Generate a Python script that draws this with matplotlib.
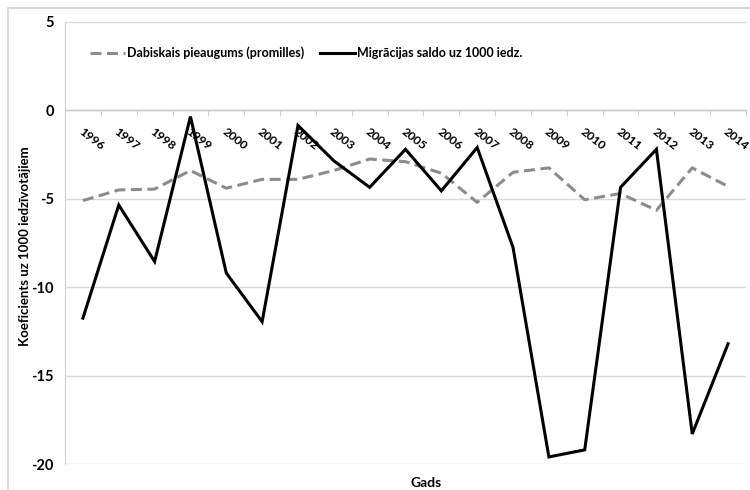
import matplotlib
matplotlib.use("Agg")
import matplotlib.pyplot as plt
import matplotlib.transforms as mtransforms
from matplotlib.lines import Line2D
from matplotlib.patches import Rectangle
import numpy as np

years = ["1996", "1997", "1998", "1999", "2000", "2001", "2002", "2003", "2004", "2005",
         "2006", "2007", "2008", "2009", "2010", "2011", "2012", "2013", "2014"]
natural_growth = [-5.1, -4.5, -4.45, -3.4, -4.4, -3.9, -3.9, -3.4, -2.75, -2.9,
                  -3.55, -5.2, -3.5, -3.25, -5.05, -4.7, -5.65, -3.25, -4.3]
migration = [-11.75, -5.35, -8.55, -0.35, -9.2, -11.95, -0.85, -2.85, -4.35, -2.2,
             -4.55, -2.1, -7.75, -19.6, -19.2, -4.35, -2.2, -18.3, -13.2]
y_ticks = [5, 0, -5, -10, -15, -20]

label_natural = "Dabiskais pieaugums (promilles)"
label_migration = "Migrācijas saldo uz 1000 iedz."

plt.rcParams["font.family"] = ["Lato", "DejaVu Sans"]
plt.rcParams["font.weight"] = "bold"

W, H = 750, 490
fig = plt.figure(figsize=(W / 100, H / 100), dpi=100)

# light frame around the chart area
fig.patches.append(Rectangle((8 / W, -0.05), 1.2, 1 - 8 / H + 0.05, transform=fig.transFigure,
                             fill=False, edgecolor="#d4d4d4", linewidth=1.2))

ax = fig.add_axes([65 / W, 1 - 464 / H, (746 - 65) / W, (464 - 22) / H])

x = np.arange(len(years))
ax.plot(x, natural_growth, color="#8c8c8c", linewidth=2.2, dashes=(3.6, 1.8),
        solid_capstyle="butt", dash_capstyle="butt")
ax.plot(x, migration, color="black", linewidth=2.2, solid_joinstyle="miter")

ax.set_xlim(-0.5, len(years) - 0.5)
ax.set_ylim(-20, 5)
ax.set_yticks(y_ticks)
ax.set_yticklabels([str(v) for v in y_ticks], fontsize=10.5, fontweight="bold")
ax.tick_params(axis="y", length=0, pad=8)
ax.grid(axis="y", color="#d9d9d9", linewidth=1.0)
ax.set_axisbelow(True)

for side in ["top", "right"]:
    ax.spines[side].set_visible(False)
ax.spines["left"].set_color("#d0d0d0")
ax.spines["bottom"].set_position(("data", 0))
ax.spines["bottom"].set_color("#c8c8c8")
ax.spines["bottom"].set_linewidth(1.0)

# category labels sit between boundary ticks
ax.set_xticks(x)
ax.set_xticklabels(years, rotation=-38, ha="left", va="center",
                   rotation_mode="anchor", fontsize=8.8, fontweight="bold")
ax.tick_params(axis="x", which="major", length=0, pad=14)
ax.set_xticks(np.arange(len(years) + 1) - 0.5, minor=True)
ax.tick_params(axis="x", which="minor", length=4, color="#c8c8c8", direction="out")
shift = mtransforms.ScaledTranslation(-3 / 100, 0, fig.dpi_scale_trans)
for lbl in ax.get_xticklabels():
    lbl.set_transform(lbl.get_transform() + shift)

fig.text(25 / W, 1 - 246 / H, "Koeficients uz 1000 iedzīvotājiem", rotation=90,
         ha="center", va="center", fontsize=9.5, fontweight="bold")
fig.text(426 / W, 1 - 483 / H, "Gads", ha="center", va="center",
         fontsize=10, fontweight="bold")

handles = [Line2D([], [], color="#8c8c8c", linewidth=2.2, dashes=(3.6, 1.8)),
           Line2D([], [], color="black", linewidth=2.2)]
ax.legend(handles, [label_natural, label_migration], ncol=2, frameon=False,
          loc="center left", bbox_to_anchor=(0.02, 0.93),
          handlelength=2.8, handletextpad=0.15, columnspacing=1.3,
          prop={"weight": "bold", "size": 9})

fig.savefig("out.png", dpi=100)
